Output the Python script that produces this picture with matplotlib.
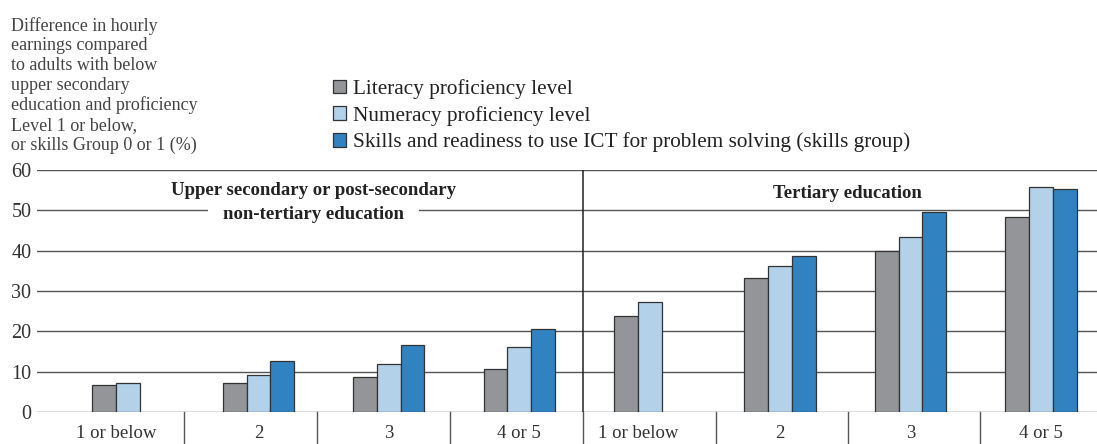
import numpy as np
import matplotlib
matplotlib.use("Agg")
import matplotlib.pyplot as plt
from matplotlib.patches import Patch

plt.rcParams['font.family'] = ['Liberation Serif', 'DejaVu Serif']

levels = ["1 or below", "2", "3", "4 or 5", "1 or below", "2", "3", "4 or 5"]
literacy = [6.7, 7.2, 8.7, 10.6, 23.9, 33.1, 39.9, 48.4]
numeracy = [7.2, 9.2, 12.0, 16.1, 27.2, 36.1, 43.5, 55.9]
ict = [np.nan, 12.6, 16.6, 20.5, np.nan, 38.8, 49.5, 55.4]

series_names = ["Literacy proficiency level",
                "Numeracy proficiency level",
                "Skills and readiness to use ICT for problem solving (skills group)"]
colors = ["#939598", "#b3d1e9", "#3182c0"]
edge = "#333333"

fig = plt.figure(figsize=(10.97, 4.44), dpi=100)
ax = fig.add_axes([37 / 1097, 32 / 444, 1 - 37 / 1097, 242 / 444])

x = np.arange(len(levels))
w = 0.182
for k, (vals, c) in enumerate(zip([literacy, numeracy, ict], colors)):
    ax.bar(x + (k - 1) * w, vals, width=w, color=c, edgecolor=edge,
           linewidth=0.9, zorder=3)

ax.set_xlim(-0.698, 7.43)
ax.set_ylim(0, 60)
ax.set_yticks(range(0, 61, 10))
ax.tick_params(axis='y', length=0, pad=4, labelsize=14.5, labelcolor="#333333")
ax.set_xticks([])
for s in ax.spines.values():
    s.set_visible(False)
for v in range(0, 61, 10):
    ax.axhline(v, color="#555555", lw=1, zorder=1)

# category labels under the axis, with cell separators
for i, lab in enumerate(levels):
    xc = x[i] - w / 2 if np.isnan(ict[i]) else x[i]
    ax.text(xc, -5.4, lab, ha="center", va="center", fontsize=13.5,
            color="#333333")
seps = [0.43, 1.45, 2.47, 3.49, 4.51, 5.52, 6.53]
for s in seps:
    ax.plot([s, s], [0, -8], color="#555555", lw=1, clip_on=False)
ax.plot([3.49, 3.49], [0, 60], color="#222222", lw=1.1, zorder=4)

# education panel headings
ax.text(1.42, 55.0, "Upper secondary or post-secondary", ha="center",
        va="center", fontsize=13.5, fontweight="bold", color="#222222", zorder=6)
ax.text(1.42, 49.0, "non-tertiary education", ha="center", va="center",
        fontsize=13.5, fontweight="bold", color="#222222", zorder=5,
        bbox=dict(facecolor="white", edgecolor="none", pad=11))
ax.text(5.52, 54.2, "Tertiary education", ha="center", va="center",
        fontsize=13.5, fontweight="bold", color="#222222", zorder=6)

fig.text(11 / 1097, 1 - 17 / 444,
         "Difference in hourly\nearnings compared\nto adults with below\n"
         "upper secondary\neducation and proficiency\nLevel 1 or below,\n"
         "or skills Group 0 or 1 (%)",
         ha="left", va="top", fontsize=13, color="#444444", linespacing=1.2)

handles = [Patch(facecolor=c, edgecolor=edge, linewidth=0.9) for c in colors]
fig.legend(handles, series_names, loc="upper left",
           bbox_to_anchor=(333 / 1097, 1 - 79 / 444), frameon=False,
           fontsize=15.3, handlelength=0.6, handleheight=0.6,
           handletextpad=0.35, labelspacing=0.32, borderpad=0, borderaxespad=0,
           labelcolor="#222222")

fig.savefig("out.png", dpi=100)
